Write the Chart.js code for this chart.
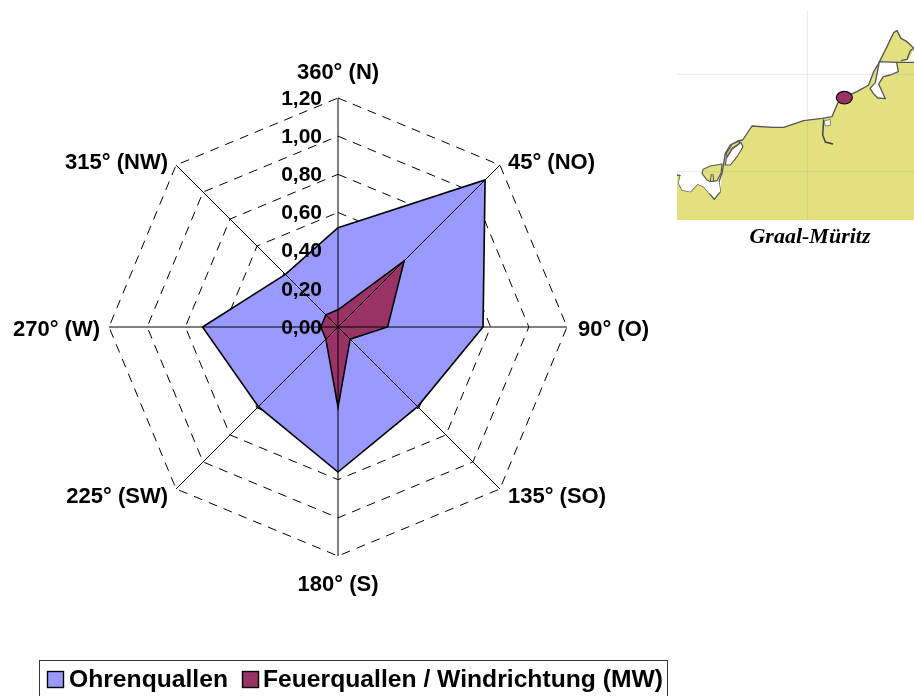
<!DOCTYPE html>
<html lang="de">
<head>
<meta charset="utf-8">
<title>Quallen / Windrichtung Graal-Müritz</title>
<script src="https://cdn.jsdelivr.net/npm/chart.js@4/dist/chart.umd.min.js"></script>
<style>
  html, body { margin: 0; padding: 0; background: #fff; }
  #stage { position: relative; width: 914px; height: 696px; overflow: hidden; }
  #rose { position: absolute; left: 0; top: 0; }
  #map { position: absolute; left: 677px; top: 10px; width: 237px; height: 210px; filter: blur(0.4px); }
  #place {
    position: absolute; left: 677px; top: 223px; width: 266px; text-align: center;
    font: italic bold 22px "Liberation Serif", serif; color: #000;
  }
</style>
</head>
<body>
<div id="stage">
  <canvas id="rose" width="914" height="696"></canvas>

  <!-- Küstenkarte Mecklenburg mit Lage der Messstelle -->
  <svg id="map" viewBox="0 0 711 630" xmlns="http://www.w3.org/2000/svg">
    <path fill="#E3E17F" stroke="none"
      d="M0 495 L10 497 L5 520 L15 540 L40 545 L62 522 L80 530 L95 548 L112 568 L130 545 L135 490 L145 430 L160 405
         L185 392 L197 390 L225 348 L285 352 L320 352 L380 332 L435 325 L465 320 L482 280 L500 262 L540 245 L575 225
         L590 185 L605 160 L630 110 L650 68 L660 62 L672 85 L690 95 L711 115 L711 630 L0 630 Z"/>
    <path fill="none" stroke="#555" stroke-width="4" stroke-linejoin="round"
      d="M0 495 L10 497 L5 520 L15 540 L40 545 L62 522 L80 530 L95 548 L112 568 L130 545 L126 515 L135 490 L145 430 L160 405
         L185 392 L197 390 L225 348 L285 352 L320 352 L380 332 L435 325 L465 320 L482 280 L500 262 L540 245 L575 225
         L590 185 L605 160 L630 110 L650 68 L660 62 L672 85 L690 95 L711 115"/>
    <!-- Saaler Bodden mit Halbinsel -->
    <path fill="#fff" stroke="none"
      d="M10 497 L78 484 L92 512 L126 515 L130 545 L112 555 L95 548 L80 530 L62 522 L40 545 L15 540 L5 520 Z"/>
    <path fill="#E3E17F" stroke="#555" stroke-width="3.4"
      d="M135 462 L100 468 L78 478 L75 490 L90 510 L100 515 L120 512 L132 490 Z"/>
    <path fill="none" stroke="#555" stroke-width="3" d="M103 492 L100 514 M108 492 L110 514"/>
    <!-- Bodstedter Bodden -->
    <path fill="#fff" stroke="#555" stroke-width="3.4"
      d="M148 445 L165 418 L192 398 L198 410 L180 440 L160 465 L145 465 Z"/>
    <path fill="#E3E17F" stroke="#555" stroke-width="3.4"
      d="M148 430 L165 403 L190 392 L185 402 L165 415 L150 440 Z"/>
    <!-- Warnow-Mündung -->
    <path fill="none" stroke="#444" stroke-width="4.5"
      d="M440 328 L437 375 L445 396 L468 402"/>
    <path fill="#fff" stroke="#555" stroke-width="2" d="M442 333 L460 328 L460 346 L445 348 Z"/>
    <!-- Saaler und Barther Gewässer im Nordosten -->
    <path fill="#fff" stroke="#555" stroke-width="4" stroke-linejoin="round"
      d="M607 155 L659 157 L664 185 L640 195 L619 200 L605 222 L625 266 L602 264 L589 250 L579 235 L595 218 Z"/>
    <path fill="#fff" stroke="none" d="M670 152 L695 148 L711 118 L711 155 L695 158 Z"/>
    <path fill="none" stroke="#555" stroke-width="4" d="M659 157 L711 157 M672 152 L690 148 L700 122 L711 115"/>
    <!-- Kartengitter -->
    <path fill="none" stroke="#7f7f7f" stroke-opacity="0.22" stroke-width="2.4"
      d="M391 0 L391 630 M0 193 L711 193 M0 485 L711 485"/>
    <!-- Messstelle -->
    <ellipse cx="502" cy="263" rx="24" ry="19" fill="#993366" stroke="#000" stroke-width="3.4"/>
  </svg>
  <div id="place">Graal-Müritz</div>
</div>

<script>
// Windrichtungen als Achsen der Rose
const directions = ['360° (N)', '45° (NO)', '90° (O)', '135° (SO)', '180° (S)', '225° (SW)', '270° (W)', '315° (NW)'];

// Mittlere Fänge je Windrichtung
const ohrenquallen = [0.52, 1.09, 0.76, 0.59, 0.76, 0.59, 0.71, 0.39];
const feuerquallen = [0.09, 0.49, 0.26, 0.09, 0.42, 0.09, 0.09, 0.09];

const seriesNames = ['Ohrenquallen', 'Feuerquallen / Windrichtung (MW)'];
const seriesFills = ['#9999FF', '#993366'];

const axisMin = 0;
const axisMax = 1.2;
const axisStep = 0.2;

const FONT = '"Liberation Sans", Arial, sans-serif';

// Fette Schrift, waagerecht minimal gestreckt
function stretchedText(ctx, text, x, y, align, size, stretch) {
  ctx.save();
  ctx.translate(x, y);
  ctx.scale(stretch, 1);
  ctx.font = 'bold ' + size + 'px ' + FONT;
  ctx.textAlign = align;
  ctx.textBaseline = 'middle';
  ctx.fillStyle = '#000';
  ctx.fillText(text, 0, 0);
  ctx.restore();
}

// Winkellinien liegen über den Flächen, Beschriftungen darüber
const rosePlugin = {
  id: 'roseDecor',
  afterDatasetsDraw(chart) {
    const r = chart.scales.r;
    const ctx = chart.ctx;
    ctx.save();

    ctx.strokeStyle = '#000';
    ctx.lineWidth = 1;
    directions.forEach((_, i) => {
      const p = r.getPointPosition(i, r.drawingArea);
      ctx.beginPath();
      ctx.moveTo(r.xCenter, r.yCenter);
      ctx.lineTo(p.x, p.y);
      ctx.stroke();
    });

    // Werte der Radialachse, rechtsbündig links der Nordachse
    r.ticks.forEach(t => {
      const y = r.yCenter - r.getDistanceFromCenterForValue(t.value);
      stretchedText(ctx, t.value.toFixed(2).replace('.', ','), r.xCenter - 16, y + 1, 'right', 21, 1);
    });

    // Richtungsbeschriftung außen an den Achsen
    const offsets = [[0, -25], [8, -2], [11, 3], [8, 8], [0, 29], [-8, 8], [-9, 3], [-8, -2]];
    directions.forEach((label, i) => {
      const p = r.getPointPosition(i, r.drawingArea);
      const [dx, dy] = offsets[i];
      const align = dx === 0 ? 'center' : (dx > 0 ? 'left' : 'right');
      stretchedText(ctx, label, p.x + dx, p.y + dy, align, 21.8, 1.01);
    });
    ctx.restore();
  },
  afterDraw(chart) {
    // Legende im Rahmen unter der Rose, unten vom Bildrand beschnitten
    const ctx = chart.ctx;
    ctx.save();
    ctx.strokeStyle = '#333';
    ctx.lineWidth = 1;
    ctx.strokeRect(39.5, 660.5, 628, 40);
    const swatchX = [47, 242];
    chart.data.datasets.forEach((ds, i) => {
      ctx.fillStyle = ds.backgroundColor;
      ctx.fillRect(swatchX[i] + 0.5, 671.5, 16, 16);
      ctx.lineWidth = 1.4;
      ctx.strokeStyle = '#000';
      ctx.strokeRect(swatchX[i] + 0.5, 671.5, 16, 16);
      stretchedText(ctx, ds.label, swatchX[i] + (i === 0 ? 22 : 21), 680, 'left', 24.2, 1.02);
    });
    ctx.restore();
  }
};

new Chart(document.getElementById('rose'), {
  type: 'radar',
  data: {
    labels: directions,
    datasets: [
      {
        label: seriesNames[0],
        data: ohrenquallen,
        backgroundColor: seriesFills[0],
        borderColor: '#000',
        borderWidth: 1.6,
        fill: true,
        pointRadius: 0,
        order: 2
      },
      {
        label: seriesNames[1],
        data: feuerquallen,
        backgroundColor: seriesFills[1],
        borderColor: '#000',
        borderWidth: 1.6,
        fill: true,
        pointRadius: 0,
        order: 1
      }
    ]
  },
  options: {
    responsive: false,
    animation: false,
    layout: { padding: { left: 109, right: 347, top: 98, bottom: 140 } },
    plugins: { legend: { display: false }, tooltip: { enabled: false } },
    elements: { line: { tension: 0 } },
    scales: {
      r: {
        min: axisMin,
        max: axisMax,
        ticks: { display: false, stepSize: axisStep },
        grid: { color: '#000', lineWidth: 1, circular: false },
        border: { dash: [9, 7] },
        angleLines: { display: false },
        pointLabels: { display: false }
      }
    }
  },
  plugins: [rosePlugin]
});
</script>
</body>
</html>
